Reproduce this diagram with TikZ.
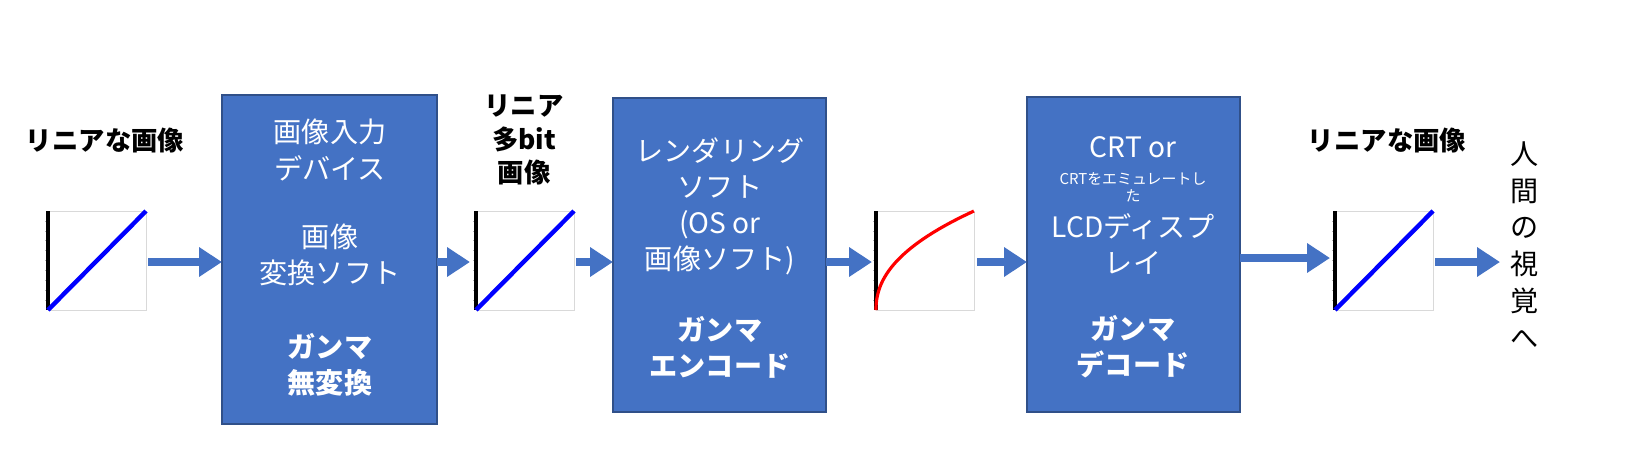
\documentclass[tikz,border=0pt]{standalone}
\usepackage{fontspec}
\setmainfont{Noto Sans CJK JP}
\newfontfamily\jpl{Noto Sans CJK JP Light}
\usetikzlibrary{arrows.meta}
\definecolor{bx}{HTML}{4472C4}
\begin{document}
\begin{tikzpicture}[x=0.02cm,y=-0.02cm,
  box/.style={fill=bx,draw=bx!70!black,line width=0.6pt},
  wt/.style={text=white,align=center,font=\fontsize{16}{20.5}\selectfont},
  wb/.style={text=white,align=center,font=\fontsize{16}{20.5}\selectfont\bfseries},
  lab/.style={align=center,font=\fontsize{15}{19}\selectfont\bfseries},
  arr/.style={draw=bx,line width=5pt,-{Triangle[length=13pt,width=16pt]}}]
\useasboundingbox (0,0) rectangle (1639,474);
% boxes
\path[box] (222,95) rectangle (437,424); \coordinate (b1w) at (222,262); \coordinate (b1e) at (437,262);
\path[box] (613,98) rectangle (826,412); \coordinate (b2w) at (613,262); \coordinate (b2e) at (826,262);
\path[box] (1027,97) rectangle (1240,412); \coordinate (b3w) at (1027,262); \coordinate (b3e) at (1240,258);
\node[wt] (t1a) at (330,150) {画像入力\\デバイス};
\node[wt] (t1b) at (330,255) {画像\\変換ソフト};
\node[wb] (t1c) at (330,365) {ガンマ\\無変換};
\node[wt] (t2a) at (720,206) {レンダリング\\ソフト\\(OS or\\画像ソフト)};
\node[wb] (t2b) at (720,347) {ガンマ\\エンコード};
\node[wt] (t3a) at (1133,147) {CRT or};
\node[text=white,align=center,font=\fontsize{8.5}{9.5}\selectfont] (t3b) at (1133,187) {CRTをエミュレートし\\た};
\node[wt] (t3c) at (1133,244) {LCDディスプ\\レイ};
\node[wb] (t3d) at (1133,347) {ガンマ\\デコード};
% labels
\node[lab] (l1) at (105,140) {リニアな画像};
\node[lab] (l2) at (524,140) {リニア\\多bit\\画像};
\node[lab] (l3) at (1387,140) {リニアな画像};
\node[font=\fontsize{16}{21}\selectfont,align=center] (l4) at (1525,245) {人\\間\\の\\視\\覚\\へ};
% charts
\foreach \cx/\nm in {48/c1,476/c2,876/c3,1335/c4}{
  \draw[gray!30,line width=0.4pt] (\cx,211) rectangle ++(98,99);
  \foreach \k in {1,...,9} \draw[gray!60,line width=0.3pt] (\cx-3,211+\k*9.9) -- (\cx,211+\k*9.9);
  \draw[black,line width=2.2pt] (\cx,211) -- (\cx,310);
  \coordinate (\nm w) at (\cx,262); \coordinate (\nm e) at (\cx+98,262);
}
\foreach \cx in {48,476,1335} \draw[blue,line width=2.5pt] (\cx,310) -- (\cx+98,211);
\draw[red,line width=1.8pt,domain=0:1,samples=60,smooth] plot ({876+98*\x^2.2},{310-99*\x});
% arrows
\coordinate (a7e) at (1500,262);
\draw[arr] (148,262) -- (b1w);
\draw[arr] (b1e) -- (470,262);
\draw[arr] (576,262) -- (b2w);
\draw[arr] (b2e) -- (872,262);
\draw[arr] (977,262) -- (b3w);
\draw[arr] (b3e) -- (1330,258);
\draw[arr] (1435,262) -- (a7e);
\end{tikzpicture}
\end{document}
